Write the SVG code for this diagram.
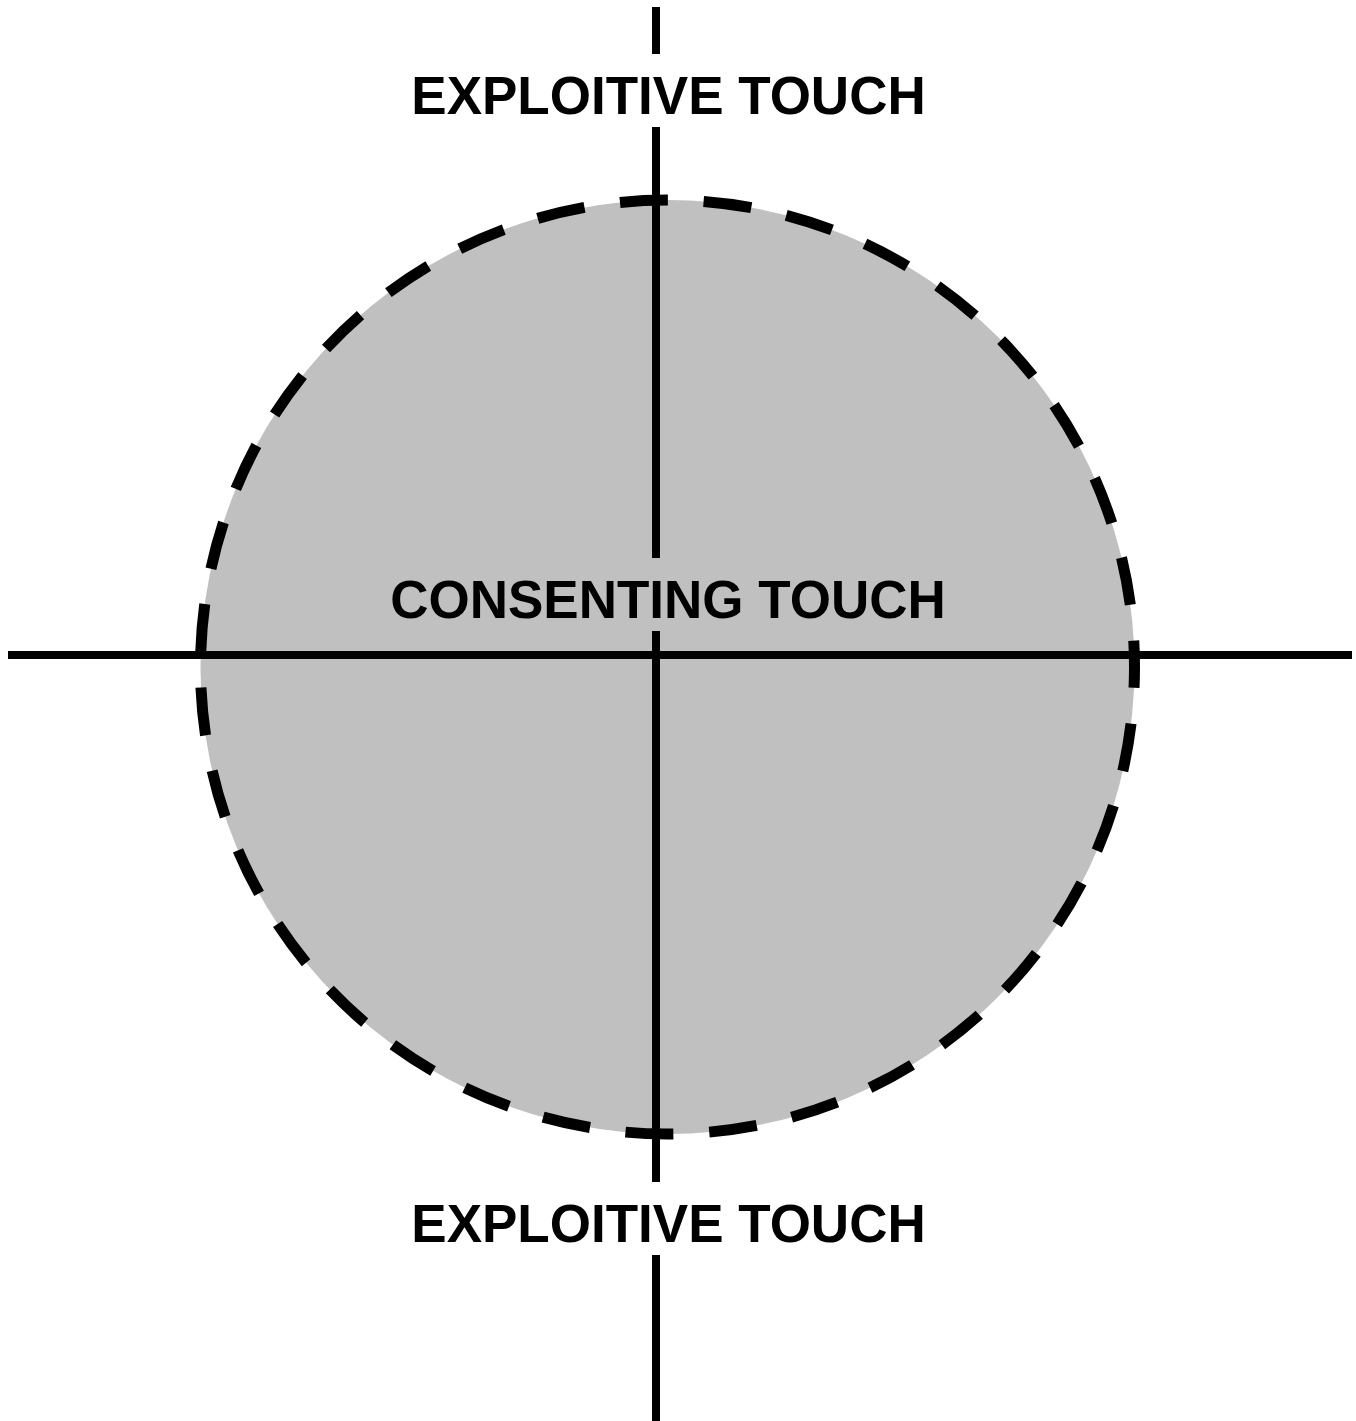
<svg xmlns="http://www.w3.org/2000/svg" width="1356" height="1421" viewBox="0 0 1356 1421">
  <style>
    .axis { stroke: #000; stroke-width: 8; fill: none; }
    .zone { fill: #c0c0c0; stroke: #000; stroke-width: 11; stroke-dasharray: 48 35.834; stroke-dashoffset: 27; }
    .label { font-family: "Liberation Sans", Arial, sans-serif; font-weight: bold; font-size: 53px; fill: #000; text-anchor: middle; }
  </style>
  <rect width="1356" height="1421" fill="#fff"/>
  <g id="consenting-zone">
    <circle class="zone" cx="667.5" cy="667" r="467"/>
  </g>
  <g id="connectors">
    <line class="axis" x1="8" y1="655" x2="1352" y2="655"/>
    <line class="axis" x1="656" y1="7" x2="656" y2="54"/>
    <line class="axis" x1="656" y1="127" x2="656" y2="558"/>
    <line class="axis" x1="656" y1="631" x2="656" y2="1182"/>
    <line class="axis" x1="656" y1="1255" x2="656" y2="1421"/>
  </g>
  <g id="label-exploitive-top">
    <text class="label" x="668.5" y="114">EXPLOITIVE TOUCH</text>
  </g>
  <g id="label-consenting">
    <text class="label" x="668" y="618">CONSENTING TOUCH</text>
  </g>
  <g id="label-exploitive-bottom">
    <text class="label" x="668.5" y="1242">EXPLOITIVE TOUCH</text>
  </g>
</svg>
